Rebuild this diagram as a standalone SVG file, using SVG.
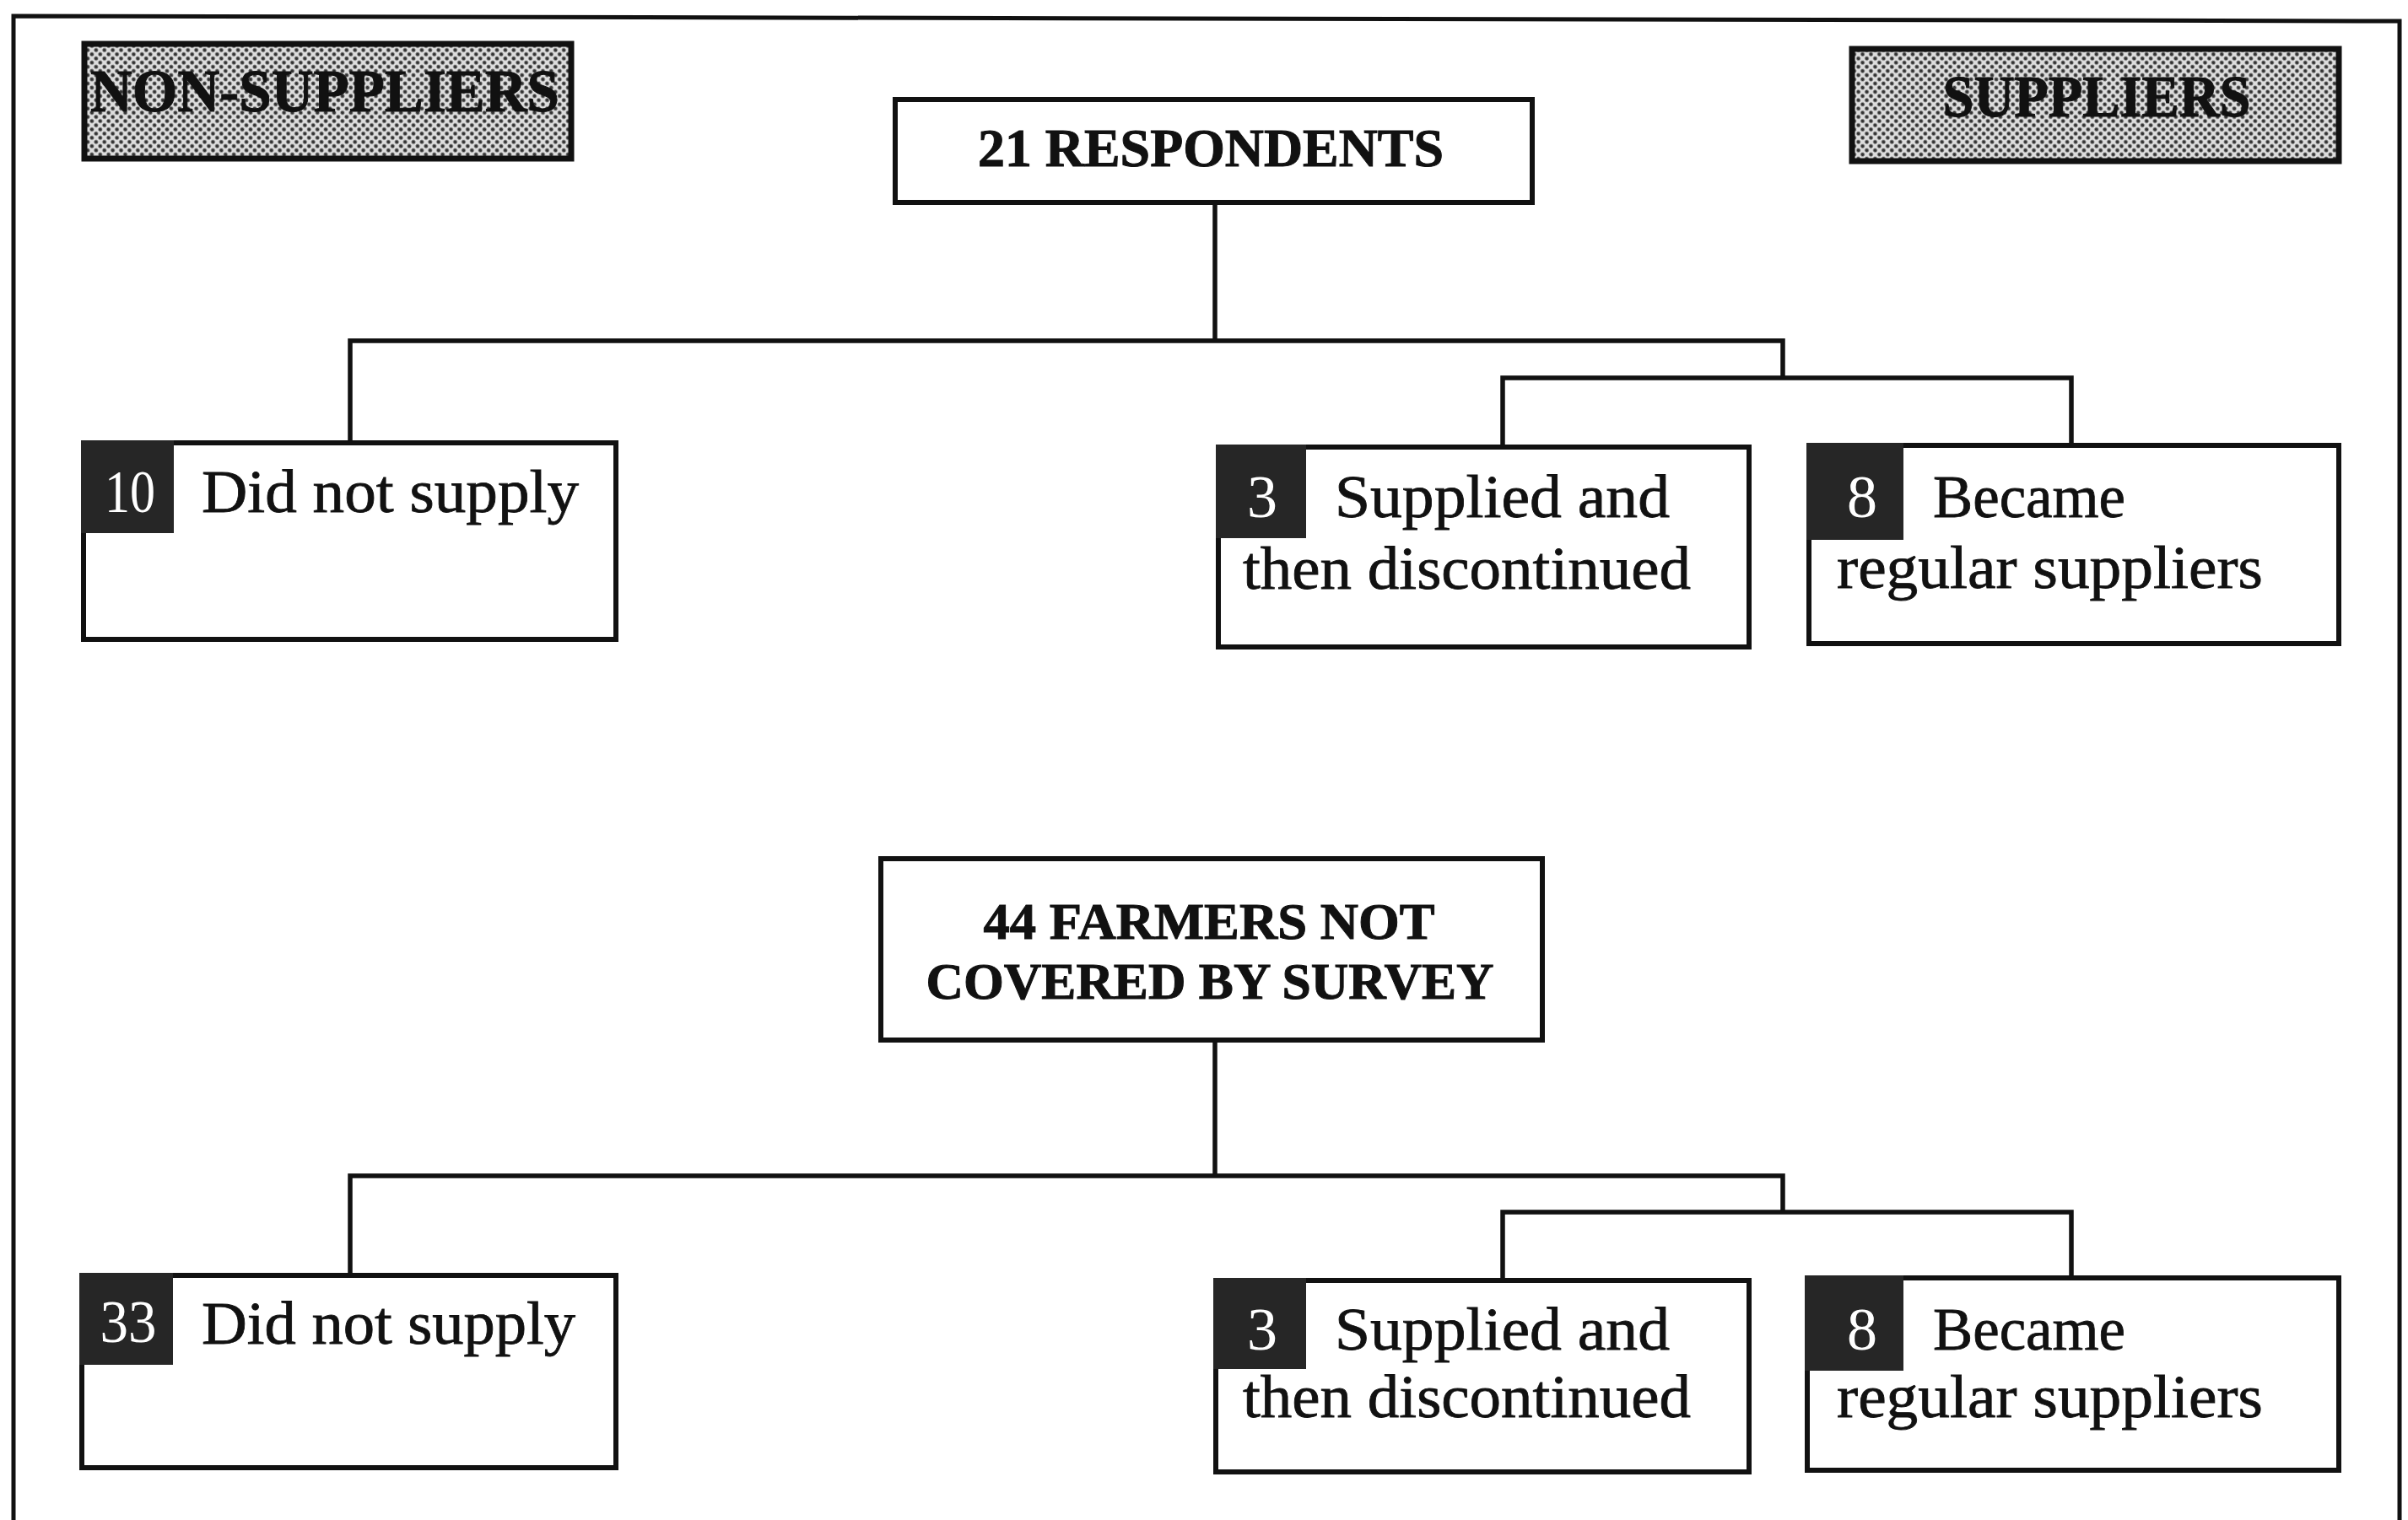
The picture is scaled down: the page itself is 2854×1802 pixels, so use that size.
<svg xmlns="http://www.w3.org/2000/svg" width="2854" height="1802" viewBox="0 0 2854 1802">
  <defs>
    <!-- screened grey fill used behind the two category tags -->
    <pattern id="halftone" width="7" height="7" patternUnits="userSpaceOnUse" patternTransform="rotate(45)">
      <rect width="7" height="7" fill="#dedede"/>
      <circle cx="3.5" cy="3.5" r="2.3" fill="#333"/>
    </pattern>
    <style>
      .frame { fill: none; stroke: #111; stroke-width: 5; }
      .wire  { fill: none; stroke: #111; stroke-width: 5.5; }
      .box   { fill: #fff; stroke: #111; stroke-width: 6; }
      .tag   { fill: url(#halftone); stroke: #111; stroke-width: 7; }
      .tile  { fill: #262626; }
      .head  { font-family: "Liberation Serif", "Times New Roman", serif; font-weight: bold; fill: #111; stroke: #111; stroke-width: 1; }
      .label { font-family: "Liberation Serif", "Times New Roman", serif; font-size: 71px; fill: #111; stroke: #111; stroke-width: 0.8; }
      .num   { font-family: "Liberation Serif", "Times New Roman", serif; font-size: 72px; fill: #fff; text-anchor: middle; }
    </style>
  </defs>

  <rect width="2854" height="1802" fill="#fff"/>

  <!-- page frame (open at the bottom) -->
  <path class="frame" d="M16 1802 L16 19 L2844 25 L2844 1802"/>

  <!-- tree connectors -->
  <g id="connectors">
    <path class="wire" d="M1440 240 V404"/>
    <path class="wire" d="M415 525 V404 H2113 V448"/>
    <path class="wire" d="M1781 530 V448 H2455 V528"/>
    <path class="wire" d="M1440 1233 V1394"/>
    <path class="wire" d="M415 1512 V1394 H2113 V1437"/>
    <path class="wire" d="M1781 1518 V1437 H2455 V1515"/>
  </g>

  <!-- category tags -->
  <g id="non-suppliers">
    <rect class="tag" x="100" y="52" width="577" height="136"/>
    <text class="head" x="385" y="132" font-size="71" text-anchor="middle" textLength="556" lengthAdjust="spacingAndGlyphs">NON-SUPPLIERS</text>
  </g>
  <g id="suppliers">
    <rect class="tag" x="2195" y="58" width="577" height="133"/>
    <text class="head" x="2485" y="138" font-size="70" text-anchor="middle" textLength="365" lengthAdjust="spacingAndGlyphs">SUPPLIERS</text>
  </g>

  <!-- upper tree -->
  <g id="respondents">
    <rect class="box" x="1061" y="118" width="755" height="122"/>
    <text class="head" x="1435" y="197" font-size="63" text-anchor="middle" textLength="552" lengthAdjust="spacingAndGlyphs">21 RESPONDENTS</text>
  </g>

  <g id="resp-did-not-supply">
    <rect class="box" x="99" y="525" width="631" height="233"/>
    <rect class="tile" x="96" y="522" width="110" height="110"/>
    <text class="num" x="154" y="607" textLength="60" lengthAdjust="spacingAndGlyphs">10</text>
    <text class="label" x="239" y="607" textLength="447" lengthAdjust="spacingAndGlyphs">Did not supply</text>
  </g>

  <g id="resp-discontinued">
    <rect class="box" x="1444" y="530" width="629" height="237"/>
    <rect class="tile" x="1441" y="527" width="107" height="111"/>
    <text class="num" x="1496" y="613">3</text>
    <text class="label" x="1582" y="613" textLength="397" lengthAdjust="spacingAndGlyphs">Supplied and</text>
    <text class="label" x="1473" y="698" textLength="531" lengthAdjust="spacingAndGlyphs">then discontinued</text>
  </g>

  <g id="resp-regular">
    <rect class="box" x="2144" y="528" width="628" height="235"/>
    <rect class="tile" x="2141" y="525" width="115" height="115"/>
    <text class="num" x="2207" y="613">8</text>
    <text class="label" x="2291" y="613" textLength="228" lengthAdjust="spacingAndGlyphs">Became</text>
    <text class="label" x="2177" y="697" textLength="505" lengthAdjust="spacingAndGlyphs">regular suppliers</text>
  </g>

  <!-- lower tree -->
  <g id="not-covered">
    <rect class="box" x="1044" y="1018" width="784" height="215"/>
    <text class="head" x="1433" y="1113" font-size="62" text-anchor="middle" textLength="535" lengthAdjust="spacingAndGlyphs">44 FARMERS NOT</text>
    <text class="head" x="1434" y="1184" font-size="62" text-anchor="middle" textLength="673" lengthAdjust="spacingAndGlyphs">COVERED BY SURVEY</text>
  </g>

  <g id="farm-did-not-supply">
    <rect class="box" x="97" y="1512" width="633" height="228"/>
    <rect class="tile" x="94" y="1509" width="111" height="109"/>
    <text class="num" x="152" y="1591" textLength="67" lengthAdjust="spacingAndGlyphs">33</text>
    <text class="label" x="239" y="1593" textLength="443" lengthAdjust="spacingAndGlyphs">Did not supply</text>
  </g>

  <g id="farm-discontinued">
    <rect class="box" x="1441" y="1518" width="632" height="227"/>
    <rect class="tile" x="1438" y="1515" width="110" height="108"/>
    <text class="num" x="1496" y="1600">3</text>
    <text class="label" x="1582" y="1600" textLength="397" lengthAdjust="spacingAndGlyphs">Supplied and</text>
    <text class="label" x="1473" y="1680" textLength="531" lengthAdjust="spacingAndGlyphs">then discontinued</text>
  </g>

  <g id="farm-regular">
    <rect class="box" x="2142" y="1515" width="630" height="228"/>
    <rect class="tile" x="2139" y="1512" width="117" height="113"/>
    <text class="num" x="2207" y="1600">8</text>
    <text class="label" x="2291" y="1600" textLength="228" lengthAdjust="spacingAndGlyphs">Became</text>
    <text class="label" x="2177" y="1680" textLength="505" lengthAdjust="spacingAndGlyphs">regular suppliers</text>
  </g>
</svg>
